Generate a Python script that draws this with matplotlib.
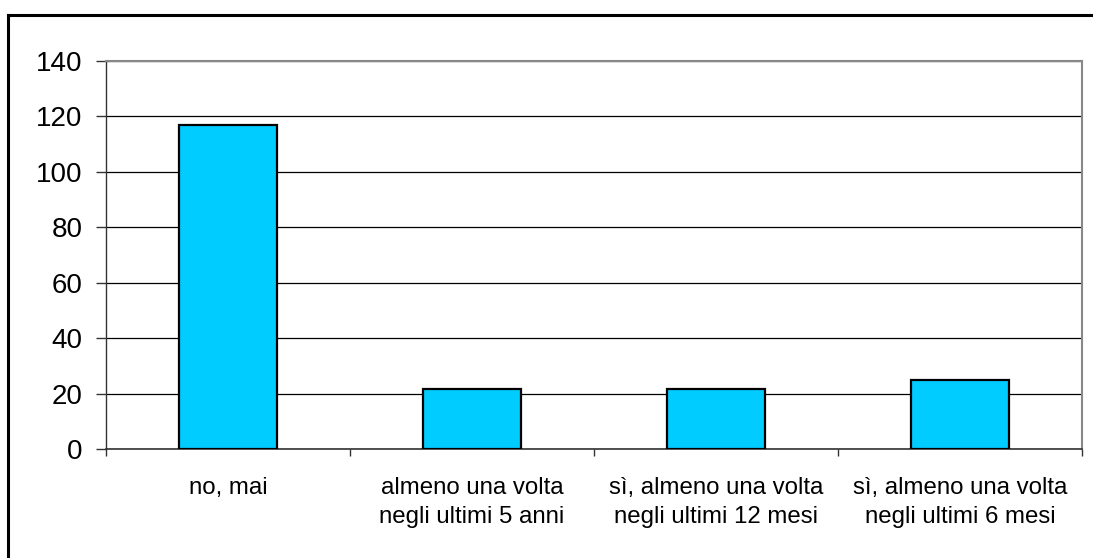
import matplotlib
matplotlib.use("Agg")
import matplotlib.pyplot as plt
from matplotlib.lines import Line2D

categories = ["no, mai",
              "almeno una volta\nnegli ultimi 5 anni",
              "sì, almeno una volta\nnegli ultimi 12 mesi",
              "sì, almeno una volta\nnegli ultimi 6 mesi"]
values = [117, 21.5, 21.5, 25]
yticks = [0, 20, 40, 60, 80, 100, 120, 140]

plt.rcParams['font.family'] = ['Liberation Sans', 'DejaVu Sans']

W, H = 1093, 558
fig = plt.figure(figsize=(W/100, H/100), dpi=100)
ax = fig.add_axes([106/W, 1-449/H, (1082-106)/W, (449-61)/H])

x = list(range(len(categories)))
ax.bar(x, values, width=0.4, color='#00CCFF', edgecolor='black', linewidth=1.6, zorder=3)
ax.set_xlim(-0.5, len(categories)-0.5)
ax.set_ylim(0, 140)
ax.set_yticks(yticks)
ax.set_yticklabels([str(v) for v in yticks], fontsize=20)
ax.yaxis.grid(True, color='black', linewidth=0.9, zorder=0)
ax.set_axisbelow(True)

ax.set_xticks([i + 0.5 for i in range(-1, len(categories))])
ax.set_xticklabels([])
ax.set_xticks(x, minor=True)
ax.set_xticklabels(categories, minor=True, fontsize=17.3, linespacing=1.4)
ax.tick_params(axis='x', which='minor', length=0, pad=20)
ax.tick_params(axis='x', which='major', length=5, width=1, color='#333333', direction='out')
ax.tick_params(axis='y', length=7, width=1, color='#333333', pad=10)

for side in ['top', 'right']:
    ax.spines[side].set_color('#888888')
    ax.spines[side].set_linewidth(1.5)
ax.spines['left'].set_color('#333333')
ax.spines['bottom'].set_color('#333333')
ax.spines['left'].set_linewidth(1)
ax.spines['bottom'].set_linewidth(1.2)

yb = 1 - 14.5/H
xb = 7.5/W
fig.add_artist(Line2D([xb, 1.05], [yb, yb], transform=fig.transFigure, color='black', linewidth=2.2))
fig.add_artist(Line2D([xb, xb], [-0.05, yb], transform=fig.transFigure, color='black', linewidth=2.2))

fig.savefig("out.png", dpi=100)
